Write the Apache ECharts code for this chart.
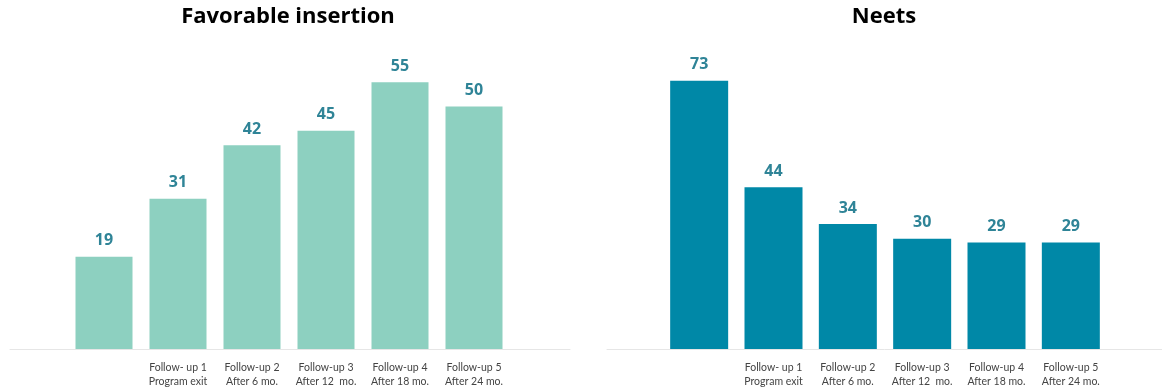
<!DOCTYPE html>
<html>
<head>
<meta charset="utf-8">
<script src="https://cdn.jsdelivr.net/npm/echarts@6/dist/echarts.min.js"></script>
<style>
  html, body { margin: 0; padding: 0; background: #fff; }
  #chart { width: 1162px; height: 390px; }
</style>
</head>
<body>
<div id="chart"></div>
<script>
// categories shared by both panels
const categories = [
  '',
  'Follow- up 1\nProgram exit',
  'Follow-up 2\nAfter 6 mo.',
  'Follow-up 3\nAfter 12  mo.',
  'Follow-up 4\nAfter 18 mo.',
  'Follow-up 5\nAfter 24 mo.'
]
const favorableValues = [19, 31, 42, 45, 55, 50]
const neetsValues = [73, 44, 34, 30, 29, 29]
const titles = ['Favorable insertion', 'Neets']

const FONT = 'Lato, "Open Sans", sans-serif'
const TITLE_FONT = '"Open Sans", Lato, sans-serif'
const labelColor = '#2f8497'

const chart = echarts.init(document.getElementById('chart'))

const catAxis = (gridIndex) => ({
  type: 'category',
  gridIndex,
  data: categories,
  axisLine: { show: false },
  axisTick: { show: false },
  axisLabel: {
    color: '#444',
    fontFamily: FONT,
    fontSize: 10.5,
    lineHeight: 13.5,
    margin: 12,
    interval: 0
  }
})

const valAxis = (gridIndex, max) => ({
  type: 'value',
  gridIndex,
  min: 0,
  max,
  show: false
})

// thin baseline spanning wider than the bars
const baseAxis = (gridIndex) => ({
  type: 'value',
  gridIndex,
  axisLine: { show: true, lineStyle: { color: '#e6e6e6', width: 1 } },
  axisTick: { show: false },
  axisLabel: { show: false },
  splitLine: { show: false }
})

const barSeries = (idx, data, color, width) => ({
  type: 'bar',
  xAxisIndex: idx,
  yAxisIndex: idx,
  data,
  barWidth: width,
  itemStyle: { color },
  label: {
    show: true,
    position: 'top',
    distance: 8,
    color: labelColor,
    fontFamily: TITLE_FONT,
    fontWeight: 'bold',
    fontSize: 16
  },
  silent: true
})

chart.setOption({
  animation: false,
  title: [
    {
      text: titles[0],
      left: 283,
      top: 1,
      textAlign: 'center',
      textStyle: { fontFamily: TITLE_FONT, fontWeight: 'bold', fontSize: 22, color: '#000' }
    },
    {
      text: titles[1],
      left: 879,
      top: 1,
      textAlign: 'center',
      textStyle: { fontFamily: TITLE_FONT, fontWeight: 'bold', fontSize: 22, color: '#000' }
    }
  ],
  grid: [
    { left: 67, width: 444, top: 58, bottom: 41 },
    { left: 662, width: 446, top: 55, bottom: 41 },
    { left: 10, width: 560, top: 300, bottom: 41 },
    { left: 607, width: 555, top: 300, bottom: 41 }
  ],
  xAxis: [catAxis(0), catAxis(1), baseAxis(2), baseAxis(3)],
  yAxis: [
    valAxis(0, 60),
    valAxis(1, 80),
    { type: 'value', gridIndex: 2, show: false },
    { type: 'value', gridIndex: 3, show: false }
  ],
  series: [
    barSeries(0, favorableValues, '#8dd0c0', 57),
    barSeries(1, neetsValues, '#0088a7', 58)
  ]
})
</script>
</body>
</html>
